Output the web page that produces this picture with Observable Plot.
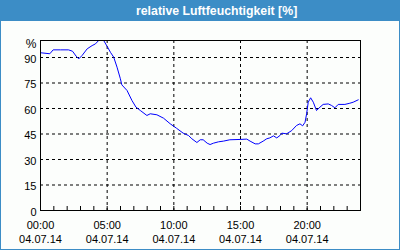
<!DOCTYPE html>
<html>
<head>
<meta charset="utf-8">
<script src="https://cdn.jsdelivr.net/npm/d3@7"></script>
<script src="https://cdn.jsdelivr.net/npm/@observablehq/plot@0.6"></script>
<style>
  html, body { margin: 0; padding: 0; background: #fcfefc; }
  #wrap { position: relative; width: 400px; height: 250px; background: #fcfefc; overflow: hidden; }
  #title { position: absolute; left: 0; top: 0; width: 400px; height: 21px; background: #3c8dc6; box-sizing: border-box;
           padding-left: 136px; color: #fff; font: bold 12.3px "Liberation Sans", Arial, sans-serif; text-align: left; line-height: 22px; white-space: nowrap; }
  #chart { position: absolute; left: 0; top: 21px; }
  #border { position: absolute; left: 0; top: 0; width: 400px; height: 250px; box-sizing: border-box;
            border: 1px solid #3c8dc6; pointer-events: none; }
</style>
</head>
<body>
<div id="wrap">
  <div id="title">relative Luftfeuchtigkeit [%]</div>
  <div id="chart"></div>
  <div id="border"></div>
</div>
<script>
const hours = [0, 0.7, 0.95, 1.5, 2.1, 2.4, 2.67, 2.87, 3.12, 3.5, 3.87, 4.12, 4.36, 4.55, 4.74, 5.0, 5.25, 5.49, 5.74, 5.99, 6.1, 6.49, 6.86, 7.16, 7.49, 7.98, 8.23, 8.73, 9.23, 9.73, 10.2, 10.7, 11.1, 11.35, 11.73, 11.98, 12.2, 12.5, 12.72, 12.97, 13.35, 13.72, 14.2, 14.97, 15.47, 15.72, 16.1, 16.34, 16.7, 16.97, 17.2, 17.47, 17.72, 17.96, 18.1, 18.46, 18.84, 19.2, 19.46, 19.66, 19.84, 19.96, 20.08, 20.26, 20.46, 20.7, 20.96, 21.2, 21.58, 21.83, 22.08, 22.33, 22.83, 23.2, 23.45, 23.83];
const humidity = [92.8, 92.2, 94.5, 94.5, 94.5, 93.7, 90.8, 89.2, 91.2, 95.1, 97, 98, 100, 101, 100, 96.5, 93, 90.2, 84.3, 77.5, 73.9, 70.6, 64.7, 60.8, 58.8, 55.9, 56.9, 56.3, 54.3, 51, 48.4, 45.5, 44.1, 42.2, 40, 41.6, 41.6, 39.6, 38.8, 39.6, 40.4, 40.8, 41.6, 41.8, 42, 40.8, 39.2, 39.2, 40.8, 42.2, 42.7, 43.9, 42.7, 44.1, 45.5, 45.1, 47, 50, 51, 49.8, 51.9, 56.9, 63.7, 66.3, 63.7, 58.8, 60.8, 62.4, 62.7, 61.8, 60.4, 62.4, 62.4, 63.1, 63.7, 65.1];

const xTickHours = [0, 5, 10, 15, 20];
const xTickTimes = ["00:00", "05:00", "10:00", "15:00", "20:00"];
const xTickDate = "04.07.14";
const minorTickHours = d3.range(0, 25, 1);
const yTicks = [0, 15, 30, 45, 60, 75, 90];
const yUnit = "%";

const data = hours.map((h, i) => ({hour: h, value: humidity[i]}));
const xLabels = xTickHours.map((h, i) => ({hour: h, time: xTickTimes[i], date: xTickDate}));

const plot = Plot.plot({
  width: 400,
  height: 229,
  marginLeft: 40,
  marginRight: 40,
  marginTop: 19,
  marginBottom: 40,
  x: {domain: [0, 24], axis: null},
  y: {domain: [0, 100], axis: null},
  style: {fontFamily: "'Liberation Sans', Arial, sans-serif", fontSize: "11px", background: "transparent", color: "#000", overflow: "visible"},
  marks: [
    Plot.ruleY(yTicks.filter(d => d > 0), {stroke: "#000", strokeDasharray: "3,3", strokeOpacity: 1}),
    Plot.ruleX(xTickHours.filter(d => d > 0), {stroke: "#000", strokeDasharray: "3,3", strokeOpacity: 1}),
    Plot.ruleX(minorTickHours, {stroke: "#000", insetTop: 166}),
    Plot.line(data, {x: "hour", y: "value", stroke: "#0000ff", strokeWidth: 1, clip: true}),
    Plot.frame({stroke: "#000", strokeOpacity: 1}),
    Plot.text(yTicks, {x: () => 0, y: d => d, text: d => String(d), textAnchor: "end", dx: -4, dy: 1.5, fill: "#000"}),
    Plot.text([yUnit], {x: () => 0, y: () => 100, text: d => d, textAnchor: "end", dx: -4, dy: 4, fill: "#000", fontSize: 12}),
    Plot.text(xLabels, {x: "hour", y: () => 0, text: "time", dy: 15, fill: "#000"}),
    Plot.text(xLabels, {x: "hour", y: () => 0, text: "date", dy: 29, fill: "#000"})
  ]
});
document.getElementById("chart").appendChild(plot);
</script>
</body>
</html>
